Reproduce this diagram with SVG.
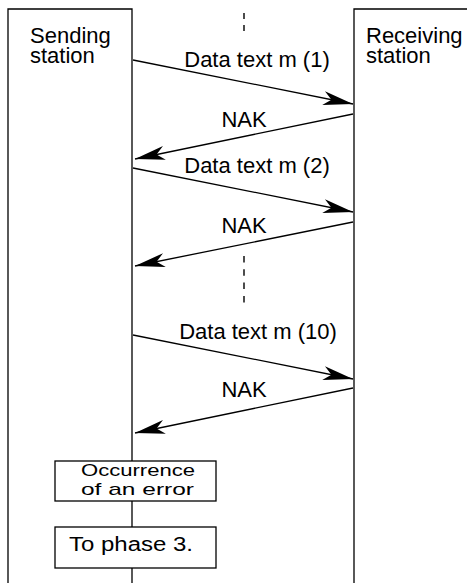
<svg xmlns="http://www.w3.org/2000/svg" width="467" height="583" viewBox="0 0 467 583">
  <style>
    .frame { fill: none; stroke: #000; stroke-width: 1.3; }
    .box { fill: #fff; stroke: #000; stroke-width: 1.3; }
    .msg { fill: none; stroke: #000; stroke-width: 1.3; marker-end: url(#head); }
    .dash { fill: none; stroke: #000; stroke-width: 1.4; }
    text { font-family: "Liberation Sans", Arial, sans-serif; fill: #000; }
    .lbl { font-size: 22px; }
    .mid { text-anchor: middle; }
  </style>
  <defs>
    <marker id="head" markerUnits="userSpaceOnUse" viewBox="-31 -8 32 16" refX="0" refY="0" markerWidth="32" markerHeight="16" orient="auto">
      <path d="M0,0 L-30,-7 L-22,0 L-30,7 Z" fill="#000"/>
    </marker>
  </defs>

  <g id="sending-station">
    <path class="frame" d="M8,583 V9 H132 V583"/>
    <text class="lbl" x="30" y="43">Sending</text>
    <text class="lbl" x="30" y="63">station</text>
  </g>

  <g id="receiving-station">
    <path class="frame" d="M354,583 V9 H468"/>
    <text class="lbl" x="366" y="43">Receiving</text>
    <text class="lbl" x="366" y="63">station</text>
  </g>

  <g id="connectors">
    <path class="dash" d="M244,13 V31" stroke-dasharray="6 6"/>
    <path class="dash" d="M244,256 V303" stroke-dasharray="6.5 6.8"/>
    <line class="msg" x1="133" y1="60" x2="353" y2="104"/>
    <line class="msg" x1="353" y1="114" x2="135" y2="159"/>
    <line class="msg" x1="133" y1="168" x2="353" y2="212"/>
    <line class="msg" x1="353" y1="222" x2="135" y2="266"/>
    <line class="msg" x1="133" y1="335" x2="353" y2="379"/>
    <line class="msg" x1="353" y1="388" x2="135" y2="433"/>
  </g>

  <g id="labels">
    <text class="lbl mid" x="257" y="67">Data text m (1)</text>
    <text class="lbl mid" x="244" y="127">NAK</text>
    <text class="lbl mid" x="257" y="173">Data text m (2)</text>
    <text class="lbl mid" x="244" y="233">NAK</text>
    <text class="lbl mid" x="258" y="339">Data text m (10)</text>
    <text class="lbl mid" x="244" y="397">NAK</text>
  </g>

  <g id="occurrence-of-error">
    <rect class="box" x="55" y="461" width="161" height="40"/>
    <text x="81" y="476" font-size="17" textLength="114" lengthAdjust="spacingAndGlyphs">Occurrence</text>
    <text x="81" y="494.5" font-size="17" textLength="113" lengthAdjust="spacingAndGlyphs">of an error</text>
  </g>

  <g id="to-phase-3">
    <rect class="box" x="55" y="527" width="161" height="41"/>
    <text x="69" y="551" font-size="20" textLength="124" lengthAdjust="spacingAndGlyphs">To phase 3.</text>
  </g>
</svg>
